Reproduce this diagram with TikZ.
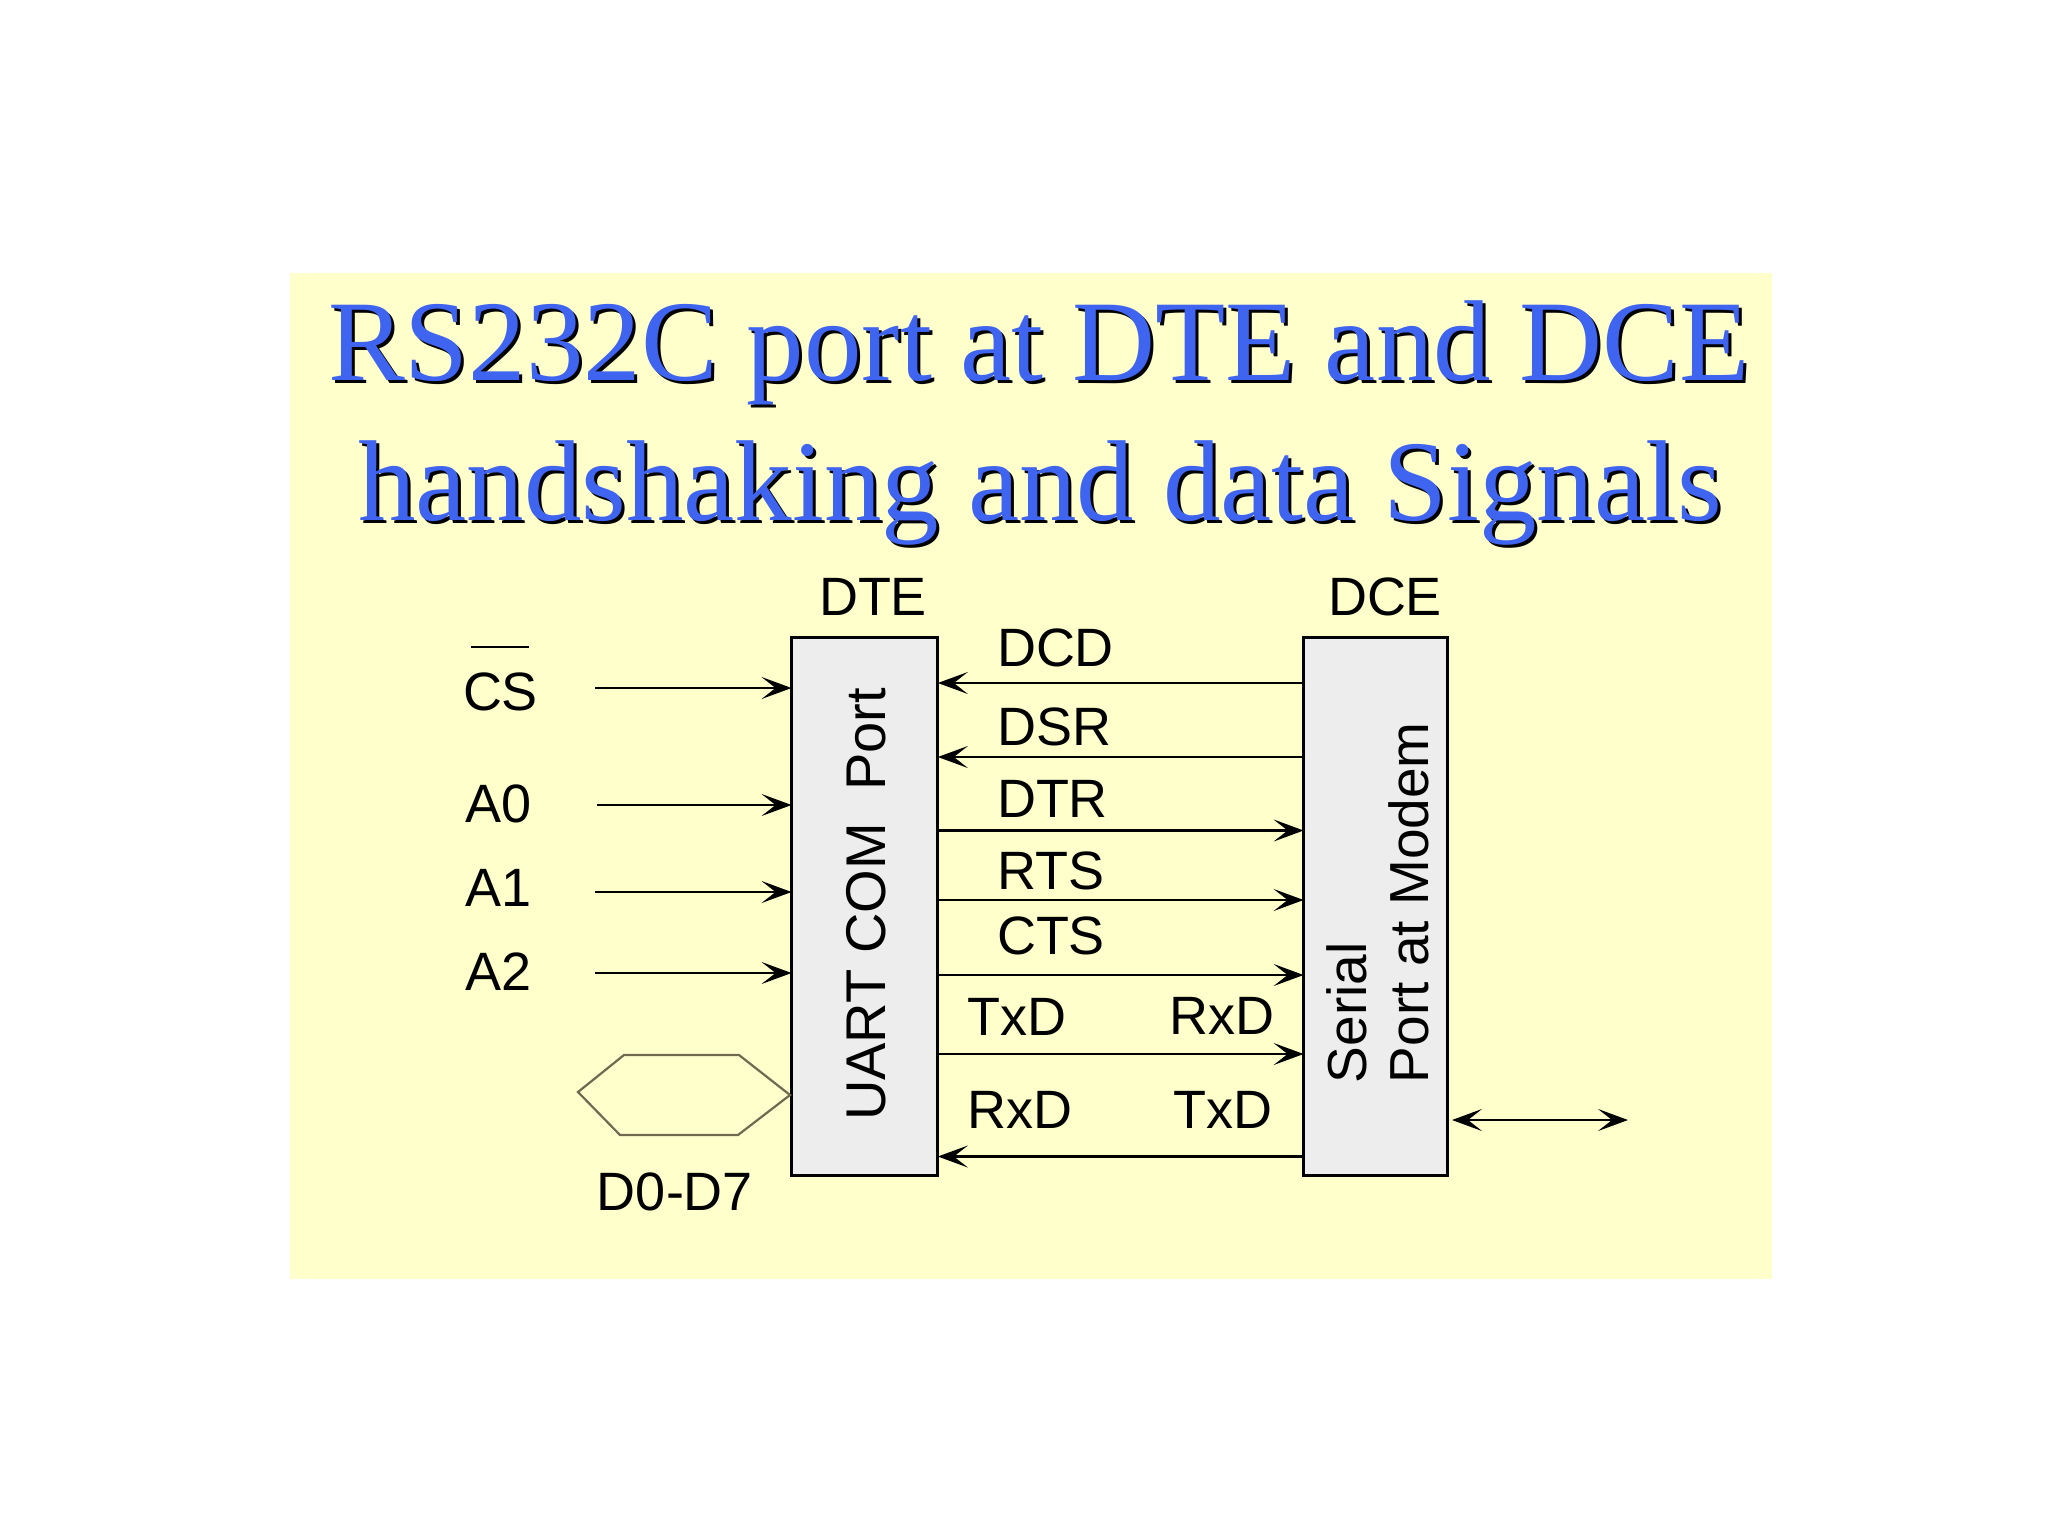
\documentclass[tikz,border=0pt]{standalone}
\usepackage{fontspec}
\setmainfont{Liberation Serif}
\newfontfamily\lsans{Liberation Sans}
\usetikzlibrary{arrows.meta}
\definecolor{bgyellow}{RGB}{255,255,204}
\definecolor{boxgray}{RGB}{237,237,237}
\definecolor{titleblue}{RGB}{62,100,240}
\definecolor{hexline}{RGB}{112,104,80}
\tikzset{
  lbl/.style={inner sep=0pt, outer sep=0pt, font=\lsans\fontsize{27pt}{32pt}\selectfont},
  rlbl/.style={inner sep=0pt, outer sep=0pt, rotate=90, font=\lsans\fontsize{27.5pt}{32pt}\selectfont},
  portbox/.style={draw=black, line width=1.4pt, fill=boxgray, inner sep=0pt, outer sep=0pt, minimum height=269pt},
  sig/.style={line width=1.1pt, -{Stealth[length=15pt,width=11pt,inset=7pt]}},
  bisig/.style={line width=1.1pt, {Stealth[length=15pt,width=11pt,inset=7pt]}-{Stealth[length=15pt,width=11pt,inset=7pt]}},
  ttl/.style={inner sep=0pt, outer sep=0pt, font=\fontsize{57.5pt}{60pt}\selectfont},
}
\begin{document}
\begin{tikzpicture}[x=0.5pt,y=-0.5pt]
\useasboundingbox (0,0) rectangle (2048,1536);
\fill[white] (0,0) rectangle (2048,1536);
\fill[bgyellow] (290,273) rectangle (1772,1279);

% title
\node[ttl, text=black, anchor=base] (t1s) at (1042,383) {RS232C port at DTE and DCE};
\node[ttl, text=titleblue, anchor=base] (t1) at (1039,380) {RS232C port at DTE and DCE};
\node[ttl, text=black, anchor=base] (t2s) at (1043,523) {handshaking and data Signals};
\node[ttl, text=titleblue, anchor=base] (t2) at (1040,520) {handshaking and data Signals};

% boxes
\node[portbox, minimum width=73.15pt] (dte) at (864.7,906.5) {};
\node[portbox, minimum width=72pt] (dce) at (1375.6,906.5) {};
\node[lbl, anchor=base] (dtelbl) at (873,615.5) {DTE};
\node[lbl, anchor=base] (dcelbl) at (1385,615.5) {DCE};
\node[rlbl, anchor=base, font=\lsans\fontsize{28pt}{32pt}\selectfont] (uart) at (885,904.5) {UART COM\hspace{0.3em} Port};
\node[rlbl, anchor=base west] (serial) at (1366.7,1083) {Serial};
\node[rlbl, anchor=base west] (portmodem) at (1428,1083) {Port at Modem};

% left inputs
\node[lbl, anchor=base west] (cs) at (463,710.7) {CS};
\draw[line width=1pt] (471,647) -- (529,647);
\node[lbl, anchor=base west] (a0) at (465,822) {A0};
\node[lbl, anchor=base west] (a1) at (465,906) {A1};
\node[lbl, anchor=base west] (a2) at (465,990) {A2};
\coordinate (csL) at (595,688);
\coordinate (a0L) at (597,805);
\coordinate (a1L) at (595,892);
\coordinate (a2L) at (595,973);
\draw[sig] (csL) -- (csL -| dte.west);
\draw[sig] (a0L) -- (a0L -| dte.west);
\draw[sig] (a1L) -- (a1L -| dte.west);
\draw[sig] (a2L) -- (a2L -| dte.west);

% data bus
\draw[hexline, line width=1.1pt] (578,1092) -- (624,1055) -- (739,1055) -- (790,1095) -- (738,1135) -- (620,1135) -- cycle;
\node[lbl, anchor=base] (dbus) at (675,1210) {D0-D7};

% handshake lines
\coordinate (dcdY) at (1100,683);
\coordinate (dsrY) at (1100,757);
\coordinate (dtrY) at (1100,830.5);
\coordinate (rtsY) at (1100,900);
\coordinate (ctsY) at (1100,975);
\coordinate (txdY) at (1100,1054);
\coordinate (rxdY) at (1100,1156.5);
\draw[sig] (dcdY -| dce.west) -- (dcdY -| dte.east);
\draw[sig] (dsrY -| dce.west) -- (dsrY -| dte.east);
\draw[sig] (dtrY -| dte.east) -- (dtrY -| dce.west);
\draw[sig] (rtsY -| dte.east) -- (rtsY -| dce.west);
\draw[sig] (ctsY -| dte.east) -- (ctsY -| dce.west);
\draw[sig] (txdY -| dte.east) -- (txdY -| dce.west);
\draw[sig] (rxdY -| dce.west) -- (rxdY -| dte.east);

\node[lbl, anchor=base west] (dcd) at (997,666) {DCD};
\node[lbl, anchor=base west] (dsr) at (997,745) {DSR};
\node[lbl, anchor=base west] (dtr) at (997,817) {DTR};
\node[lbl, anchor=base west] (rts) at (997,889) {RTS};
\node[lbl, anchor=base west] (cts) at (997,954) {CTS};
\node[lbl, anchor=base west] (txd1) at (967,1035) {TxD};
\node[lbl, anchor=base east] (rxd1) at (1274,1034) {RxD};
\node[lbl, anchor=base west] (rxd2) at (967,1128) {RxD};
\node[lbl, anchor=base east] (txd2) at (1272,1128) {TxD};

% line side
\coordinate (lineL) at (1452,1120);
\coordinate (lineR) at (1628,1120);
\draw[bisig] (lineL) -- (lineR);
\end{tikzpicture}
\end{document}
